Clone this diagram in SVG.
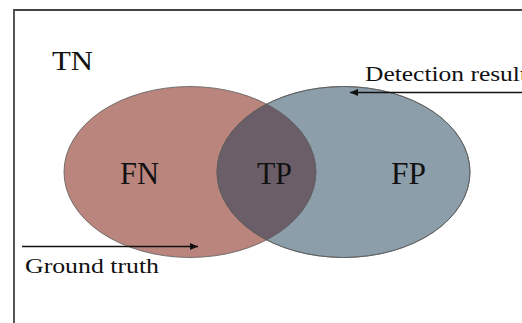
<svg xmlns="http://www.w3.org/2000/svg" width="522" height="323" viewBox="0 0 522 323">
<style>
.t{font-family:"Liberation Serif","Times New Roman",serif;fill:#111;}
.e{stroke:#5a5a5a;stroke-width:0.8;}
.c{stroke:#111;stroke-width:1.4;fill:none;}
</style>
<defs>
<marker id="ah" viewBox="0 0 10 10" refX="10" refY="5" markerWidth="8" markerHeight="7" markerUnits="userSpaceOnUse" orient="auto" preserveAspectRatio="none">
<path d="M0,0 L10,5 L0,10 z" fill="#111"/>
</marker>
<clipPath id="clipBlue"><ellipse cx="343.5" cy="172" rx="126.5" ry="85.5"/></clipPath>
</defs>
<rect width="522" height="323" fill="#fff"/>
<g id="frame">
<path d="M14,323 L14,10 L522,10" fill="none" stroke="#444" stroke-width="1.8"/>
</g>
<g id="ground-truth-set">
<ellipse class="e" cx="190" cy="172" rx="126" ry="85.5" fill="#ba857d"/>
</g>
<g id="detection-set">
<ellipse class="e" cx="343.5" cy="172" rx="126.5" ry="85.5" fill="#8d9eab"/>
</g>
<g id="overlap">
<ellipse class="e" cx="190" cy="172" rx="126" ry="85.5" fill="#6b5e68" clip-path="url(#clipBlue)"/>
<ellipse cx="343.5" cy="172" rx="126.5" ry="85.5" fill="none" stroke="#5a5a5a" stroke-width="0.8"/>
</g>
<g id="labels">
<text class="t" x="52" y="70" font-size="28" textLength="41" lengthAdjust="spacingAndGlyphs">TN</text>
<text class="t" x="120" y="184" font-size="31" textLength="39" lengthAdjust="spacingAndGlyphs">FN</text>
<text class="t" x="257" y="184" font-size="31" textLength="35" lengthAdjust="spacingAndGlyphs">TP</text>
<text class="t" x="391" y="184" font-size="31" textLength="35" lengthAdjust="spacingAndGlyphs">FP</text>
<text class="t" x="365" y="81" font-size="20" textLength="162" lengthAdjust="spacingAndGlyphs">Detection result</text>
<text class="t" x="25" y="273" font-size="22" textLength="134" lengthAdjust="spacingAndGlyphs">Ground truth</text>
</g>
<g id="connectors">
<line class="c" x1="523" y1="92.5" x2="350" y2="92.5" marker-end="url(#ah)"/>
<line class="c" x1="22" y1="246.5" x2="198" y2="246.5" marker-end="url(#ah)"/>
</g>
</svg>
